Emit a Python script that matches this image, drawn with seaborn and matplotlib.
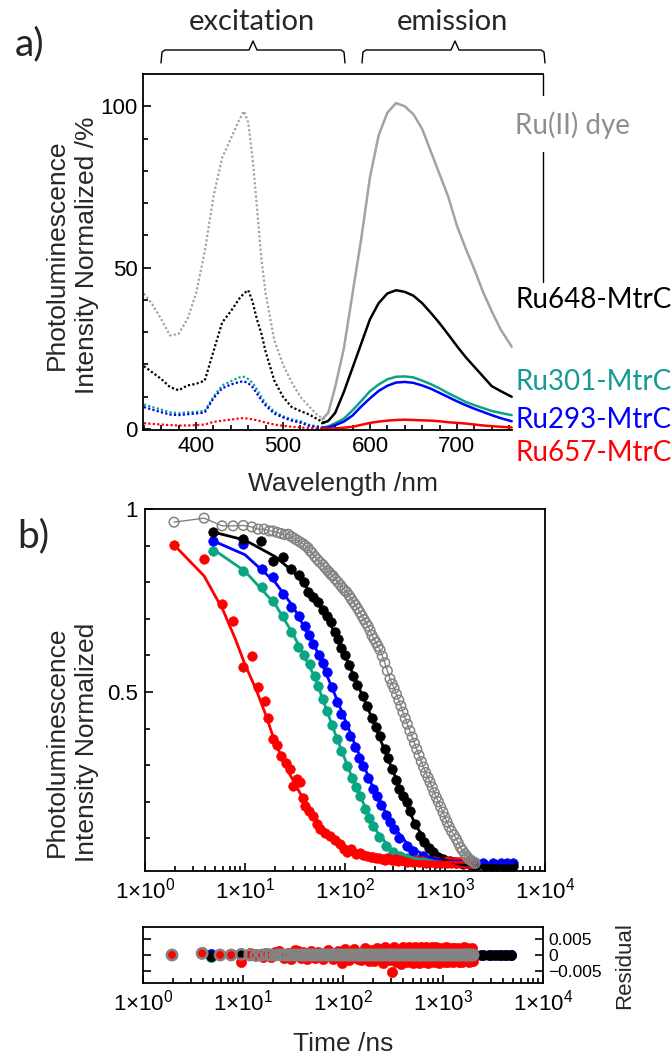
"""
Photoluminescence spectra (a) and decay traces with fit residuals (b)
for the Ru(II) dye and the Ru-labelled MtrC variants.
"""

import numpy as np
import pandas as pd
import matplotlib
matplotlib.use("Agg")
import matplotlib.pyplot as plt
from matplotlib.lines import Line2D
from matplotlib.ticker import FixedLocator, LogLocator, FuncFormatter, NullFormatter
import seaborn as sns

# ---------------- panel a: spectra ----------------
EX_NM = [340, 350, 360, 370, 380, 390, 400, 410, 420, 430, 440, 450, 455, 460,
         465, 470, 475, 480, 490, 500, 510, 520, 530, 540, 548]
EM_NM = [545, 552, 560, 570, 580, 590, 600, 610, 620, 630, 640, 650, 660, 670,
         680, 690, 700, 710, 720, 730, 740, 750, 763]

dye_ex = [42, 38.5, 34, 29, 29.5, 34, 42, 55, 72, 84, 90, 96, 98.5, 95,
          84, 69, 53, 42, 27.5, 20, 14.5, 10, 7, 4.2, 3]
dye_em = [3, 5, 13, 25, 42, 59, 78, 91, 98, 101, 100, 97.5, 93, 86,
          79, 72, 63, 56, 49.5, 42.5, 36.5, 31, 25.5]
ru648_ex = [19.5, 17.5, 15.5, 13, 12, 13.5, 14, 15, 24, 33, 36.5, 40.5, 42, 43,
            39.5, 34, 29.7, 24, 15, 10, 6.8, 5.6, 4.5, 3, 1.8]
ru648_em = [1.8, 2.5, 5, 11.5, 19, 26.5, 34, 39, 42, 43, 42.5, 41.3, 39, 36,
            32.8, 29.3, 25.7, 22.3, 19.3, 16.3, 13.3, 11.8, 10]
ru301_ex = [7.6, 6.8, 6, 5.2, 4.9, 5.2, 5.3, 5.6, 10, 13.5, 14.8, 16, 16.2, 15.5,
            14.3, 12.3, 10, 8, 5.4, 4, 3, 2.4, 1.3, 0.8, 0.5]
ru301_em = [0.5, 0.8, 1.8, 3.2, 5.8, 8.7, 11.7, 13.8, 15.4, 16.2, 16.3, 16, 15,
            13.9, 12.6, 11.1, 9.8, 8.4, 7.4, 6.5, 5.6, 5, 4.3]
ru293_ex = [6.8, 6, 5.2, 4.5, 4.3, 4.6, 4.8, 5.1, 9.5, 12.6, 13.8, 14.6, 14.8, 14.2,
            13, 11, 9, 7.3, 4.8, 3.6, 2.6, 2, 1, 0.5, 0.3]
ru293_em = [0.3, 0.5, 1.2, 2.3, 4.2, 7, 9.5, 11.8, 13.4, 14.4, 14.6, 14.3, 13.5,
            12.5, 11.2, 9.9, 8.6, 7.4, 6.3, 5.3, 4.3, 3.4, 2.4]
ru657_ex = [1.8, 1.6, 1.4, 1.2, 1.1, 1.1, 1.2, 1.4, 2.2, 2.6, 2.9, 3.3, 3.4, 3.2,
            3.0, 2.7, 2.4, 2.0, 1.4, 1.0, 0.7, 0.5, 0.3, 0.2, 0.1]
ru657_em = [0.1, 0.1, 0.2, 0.4, 0.7, 1.3, 1.9, 2.3, 2.6, 2.8, 2.9, 2.8, 2.7, 2.6,
            2.4, 2.1, 1.9, 1.7, 1.4, 1.1, 0.9, 0.7, 0.5]

# ---------------- panel b: decays (time /ns, normalised PL, residual) ----------------
dye_t = [1.95, 3.9, 5.9, 7.6, 9.6, 11.7, 13.5, 15.5, 17.5, 19,
         21, 23, 25, 27, 29, 31, 33, 35.5, 38, 40,
         42.5, 44.7, 47, 50, 53, 56, 60, 63, 67, 70,
         73, 76, 80, 85, 90, 94, 99, 104, 110, 115,
         121, 127, 134, 141, 148, 155, 162, 170, 178, 186,
         195, 205, 214, 224, 236, 250, 265, 282, 296, 310,
         327, 345, 362, 380, 400, 420, 445, 470, 495, 522,
         550, 580, 610, 640, 675, 708, 745, 780, 820, 860,
         905, 955, 1000, 1050, 1100, 1160, 1230, 1300, 1360, 1430,
         1500, 1580, 1650, 1720, 1790, 1860, 1930, 2000]
dye_v = [.964, .975, .954, .954, .955, .951, .945, .945, .94, .94,
         .936, .933, .93, .931, .925, .92, .915, .91, .905, .9,
         .894, .886, .88, .87, .862, .855, .848, .84, .832, .826,
         .82, .817, .808, .8, .792, .785, .778, .773, .764, .755,
         .746, .738, .728, .718, .708, .698, .689, .68, .668, .655,
         .645, .635, .625, .615, .598, .58, .558, .536, .522, .51,
         .494, .478, .462, .445, .428, .412, .394, .377, .36, .344,
         .327, .31, .295, .28, .267, .254, .24, .225, .212, .2,
         .186, .172, .158, .145, .132, .12, .109, .098, .087, .075,
         .067, .058, .051, .045, .041, .038, .035, .032]
dye_r = [0, .0005, 0, 0, .0002, 0, -.0002, 0, .0002, 0,
         0, .0001, 0, 0, 0, 0, 0, 0, 0, 0,
         0, 0, 0, 0, 0, 0, 0, 0, 0, 0,
         0, 0, 0, 0, 0, 0, 0, 0, 0, 0,
         0, 0, 0, 0, 0, 0, 0, 0, 0, 0,
         0, 0, 0, 0, 0, 0, 0, 0, 0, 0,
         0, 0, 0, 0, 0, 0, 0, 0, 0, 0,
         0, 0, 0, 0, 0, 0, 0, 0, 0, 0,
         0, 0, 0, 0, 0, 0, 0, 0, 0, 0,
         0, 0, 0, 0, 0, 0, 0, 0]

ru648_t = [4.8, 9.6, 14.5, 19, 24, 29, 35, 39, 43, 48, 54, 60, 66, 72, 79, 85, 92, 100,
           110, 120, 132, 150, 165, 185, 205, 224, 250, 270, 292, 320, 350, 380, 415, 450,
           500, 562, 620, 690, 760, 850, 950, 1120, 1300, 1500, 1800, 2100, 2500, 2900,
           3300, 3800, 4300, 4800]
ru648_v = [.937, .918, .913, .858, .869, .836, .82, .8, .773, .76, .746, .725, .708, .69, .664,
           .645, .62, .6, .575, .544, .52, .49, .462, .43, .405, .38, .345, .32, .29, .26,
           .235, .215, .2, .175, .14, .107, .09, .075, .063, .05, .043, .038, .033, .03,
           .028, .027, .026, .025, .025, .024, .024, .024]
ru648_r = [-.0004, .0003, 0, 0, 0, 0, 0, 0, 0, 0, 0, 0, 0, 0, 0, 0, 0, 0,
           0, 0, 0, 0, 0, 0, 0, 0, 0, 0, 0, 0, 0, 0, 0, 0,
           0, 0, 0, 0, 0, 0, 0, 0, 0, 0, 0, 0, 0, 0, 0, 0, 0, 0]
ru648_fit_t = [4.8, 10, 20, 30, 50, 80, 120, 170, 250, 350, 500, 700, 1000, 1500, 2000, 4800]
ru648_fit_v = [.937, .915, .87, .83, .76, .66, .55, .455, .34, .24, .14, .075, .04, .028, .026, .024]

ru293_t = [4.8, 9.6, 14.7, 19, 24, 29, 35, 40, 44, 48, 55, 60, 66, 74, 83, 92, 100, 112,
           125, 138, 151, 170, 190, 208, 230, 255, 282, 310, 350, 415, 480, 600, 750, 955,
           1200, 1500, 1900, 2400, 3000, 3600, 4200, 4800]
ru293_v = [.913, .904, .836, .814, .768, .732, .708, .68, .655, .631, .6, .58, .555, .515,
           .473, .44, .41, .38, .35, .32, .298, .265, .235, .216, .19, .165, .145, .125, .1,
           .079, .065, .052, .045, .038, .035, .033, .032, .032, .032, .032, .032, .032]
ru293_r = [.0002, .0003, 0, 0, 0, 0, 0, 0, 0, 0, 0, 0, 0, 0, 0, 0, 0, 0,
           0, 0, 0, 0, 0, 0, 0, 0, 0, 0, 0, 0, 0, 0, 0, 0,
           0, 0, 0, 0, 0, 0, 0, 0]
ru293_fit_t = [4.8, 10, 20, 30, 50, 80, 120, 200, 300, 450, 700, 1000, 2000, 4800]
ru293_fit_v = [.913, .875, .8, .735, .625, .49, .37, .225, .135, .075, .048, .04, .034, .032]

ru301_t = [4.8, 9.6, 14.7, 19, 24, 29, 34, 39, 44.7, 50, 54, 60, 66, 74, 83, 92, 104, 118,
           130, 141, 160, 175, 191, 220, 257, 300, 355, 420, 520, 650, 800, 1000, 1300,
           1700, 2000]
ru301_v = [.885, .831, .787, .749, .708, .664, .623, .6, .577, .545, .516, .48, .448, .41,
           .372, .34, .298, .265, .24, .216, .18, .155, .134, .105, .079, .062, .052, .047,
           .044, .042, .04, .038, .036, .035, .035]
ru301_r = [-.0006, 0, 0, 0, 0, 0, 0, 0, 0, 0, 0, 0, 0, 0, 0, 0, 0, 0,
           0, 0, 0, 0, 0, 0, 0, 0, 0, 0, 0, 0, 0, 0, 0, 0, 0]
ru301_fit_t = [4.8, 10, 20, 30, 50, 80, 120, 200, 300, 500, 1000, 2000]
ru301_fit_v = [.89, .83, .74, .66, .54, .385, .26, .125, .065, .045, .038, .035]

ru657_t = [1.95, 3.9, 5.9, 7.6, 9.6, 11.7, 13.5, 15.8, 17, 19,
           21, 23, 26, 28, 30, 33, 35.5, 38, 40, 44,
           48, 52, 56, 63, 71, 80, 89, 97, 104, 115,
           130, 140, 150, 165, 180, 190, 205, 220, 235, 250,
           265, 280, 295, 310, 325, 340, 360, 380, 400, 420,
           440, 460, 480, 500, 525, 550, 575, 600, 625, 650,
           675, 700, 735, 770, 810, 850, 885, 920, 960, 1000,
           1040, 1080, 1120, 1160, 1200, 1250, 1300, 1350, 1400, 1450,
           1500, 1560, 1620, 1680, 1740, 1800, 1860, 1920, 1960, 2000]
ru657_v = [.902, .863, .74, .694, .568, .598, .514, .475, .43, .372,
           .355, .325, .305, .29, .243, .262, .254, .21, .189, .175,
           .161, .14, .126, .115, .107, .095, .085, .07, .063, .07,
           .058, .06, .055, .052, .05, .05, .047, .046, .044, .042,
           .046, .045, .041, .04, .043, .038, .04, .041, .037, .036,
           .04, .039, .035, .04, .037, .036, .039, .037, .035, .034,
           .037, .035, .036, .038, .034, .036, .037, .033, .036, .035,
           .034, .037, .035, .034, .036, .036, .033, .035, .034, .035,
           .035, .034, .033, .036, .034, .033, .035, .033, .035, .034]
ru657_r = [0, .001, 0, .0004, -.0022, .0008, .0003, -.0005, .0006, -.0008,
           .001, .0012, -.001, .0008, -.0012, .0015, .0014, -.001, .0011, -.0013,
           .0012, -.0011, .0009, -.0014, .0016, -.0012, .0014, -.0025, .0018, -.0017,
           .0019, -.0012, -.0015, .0021, -.0018, .0015, -.002, .0024, -.0014, -.0026,
           .0025, .0012, -.0017, -.0055, .0026, -.0022, -.0013, -.0028, .0027, .0016,
           -.0024, .0026, -.0016, -.0027, .0025, .0018, -.0026, .0027, -.0015, -.0024,
           .0026, -.0027, .0016, .0025, -.0023, .0026, -.0018, -.0025, .0024, .0015,
           -.0022, .0025, -.0024, .0017, .0023, -.0021, .0022, -.0016, .0024, -.0023,
           .0018, -.0022, .0025, -.0014, .0021, -.0024, .0019, -.002, .0022, -.0018]
ru657_fit_t = [1.95, 3.9, 6, 8, 10, 13, 16, 19, 25, 35, 45, 56, 80, 100, 150, 250, 500, 1000, 2000]
ru657_fit_v = [.902, .817, .725, .645, .575, .505, .44, .38, .3, .227, .175, .14, .09, .068,
               .052, .042, .037, .035, .034]

GRAY_A = "#a3a3a3"
GRAY_B = "#838383"
GREEN = "#0aa584"
BLUE = "#0000ff"
RED = "#ff0000"
BLACK = "#000000"

sns.set_style("ticks")
plt.rcParams["font.family"] = ["Liberation Sans", "DejaVu Sans"]
plt.rcParams["mathtext.fontset"] = "custom"
plt.rcParams["mathtext.rm"] = "Liberation Sans"
plt.rcParams["mathtext.default"] = "regular"
plt.rcParams["axes.edgecolor"] = "black"
plt.rcParams["axes.linewidth"] = 1.3
plt.rcParams["xtick.color"] = "black"
plt.rcParams["ytick.color"] = "black"

W, H = 672, 1057
fig = plt.figure(figsize=(W / 100, H / 100), dpi=100)
CAL = ["Lato", "DejaVu Sans"]


def box(l, t, r, b):
    return [l / W, 1 - b / H, (r - l) / W, (b - t) / H]


def ftext(x, y, s, **kw):
    fig.text(x / W, 1 - y / H, s, **kw)


def fline(xs, ys, **kw):
    fig.add_artist(Line2D([x / W for x in xs], [1 - y / H for y in ys],
                          transform=fig.transFigure, color="black", lw=1.0, **kw))


# ---------------- panel a ----------------
ax_a = fig.add_axes(box(143, 74, 543, 430))
spectra = [
    (dye_ex, dye_em, GRAY_A),
    (ru648_ex, ru648_em, BLACK),
    (ru301_ex, ru301_em, GREEN),
    (ru293_ex, ru293_em, BLUE),
    (ru657_ex, ru657_em, RED),
]
for ex, em, col in spectra:
    sns.lineplot(x=EX_NM, y=ex, ax=ax_a, color=col, lw=1.6, linestyle=(0, (1, 1)),
                 estimator=None, sort=False)
    sns.lineplot(x=EM_NM, y=em, ax=ax_a, color=col, lw=1.8, estimator=None, sort=False)

ax_a.set_xlim(339, 799)
ax_a.set_ylim(-0.3, 110)
ax_a.spines["right"].set_visible(False)
ax_a.spines["bottom"].set_bounds(339, 763)
ax_a.xaxis.set_major_locator(FixedLocator([400, 500, 600, 700]))
ax_a.xaxis.set_minor_locator(FixedLocator(list(range(340, 761, 20))))
ax_a.yaxis.set_major_locator(FixedLocator([0, 50, 100]))
ax_a.yaxis.set_minor_locator(FixedLocator(list(range(0, 101, 10))))
ax_a.tick_params(which="both", direction="in", top=False, right=False, width=1.2,
                 labelsize=16, pad=4)
ax_a.tick_params(which="major", length=6)
ax_a.tick_params(which="minor", length=3.5)
ax_a.set_xlabel("")
ax_a.set_ylabel("")

# right frame pieces around the "Ru(II) dye" label
fline([543, 543], [74, 95])
fline([543, 543], [152, 282])

labels_a = [
    ("Ru(II) dye", 125, "#8f8f8f"),
    ("Ru648-MtrC", 300, BLACK),
    ("Ru301-MtrC", 382, "#179a96"),
    ("Ru293-MtrC", 420, BLUE),
    ("Ru657-MtrC", 453, RED),
]
for txt, y, col in labels_a:
    ftext(515, y, txt, color=col, fontsize=20, family=CAL, ha="left", va="center")

ftext(343, 484, "Wavelength /nm", fontsize=19, ha="center", va="center")
ftext(72, 255, "Photoluminescence\nIntensity Normalized /%", fontsize=19, rotation=90,
      ha="center", va="center", linespacing=1.3)

# excitation / emission brackets
fline([161, 162, 165, 249, 253, 257, 341, 344, 345], [63, 52, 50, 50, 41, 50, 50, 52, 63])
fline([362, 363, 366, 451, 455, 459, 541, 544, 545], [63, 52, 50, 50, 41, 50, 50, 52, 63])
ftext(252, 22, "excitation", fontsize=21, family=CAL, ha="center", va="center")
ftext(452, 22, "emission", fontsize=21, family=CAL, ha="center", va="center")
ftext(30, 44, "a)", fontsize=28, family=CAL, ha="center", va="center")
ftext(33, 536, "b)", fontsize=28, family=CAL, ha="center", va="center")

# ---------------- panel b ----------------
decays = [
    (ru301_t, ru301_v, ru301_r, ru301_fit_t, ru301_fit_v, GREEN),
    (ru293_t, ru293_v, ru293_r, ru293_fit_t, ru293_fit_v, BLUE),
    (ru648_t, ru648_v, ru648_r, ru648_fit_t, ru648_fit_v, BLACK),
    (ru657_t, ru657_v, ru657_r, ru657_fit_t, ru657_fit_v, RED),
]

ax_b = fig.add_axes(box(145, 509, 545, 871))
ax_r = fig.add_axes(box(143, 927, 543, 983))
for ax in (ax_b, ax_r):
    ax.set_xscale("log")

for t, v, r, ft, fv, col in decays:
    df = pd.DataFrame({"t": t, "v": v, "r": r})
    sns.scatterplot(data=df, x="t", y="v", ax=ax_b, color=col, s=48,
                    edgecolor=col, linewidth=0.4, zorder=3)
    sns.lineplot(x=ft, y=fv, ax=ax_b, color=col, lw=2.0, estimator=None, sort=False, zorder=4)
    sns.scatterplot(data=df, x="t", y="r", ax=ax_r, color=col, s=55,
                    edgecolor=col, linewidth=0.4, zorder=3)

dye_df = pd.DataFrame({"t": dye_t, "v": dye_v, "r": dye_r})
sns.lineplot(data=dye_df, x="t", y="v", ax=ax_b, color=GRAY_B, lw=1.0,
             estimator=None, sort=False, zorder=5)
sns.scatterplot(data=dye_df, x="t", y="v", ax=ax_b, color=GRAY_B, s=48, linewidth=1.1,
                zorder=6)
ax_b.collections[-1].set_facecolor("none")
ax_b.collections[-1].set_edgecolor(GRAY_B)
sns.scatterplot(data=dye_df, x="t", y="r", ax=ax_r, color=GRAY_B, s=55, linewidth=1.8,
                zorder=6)
ax_r.collections[-1].set_facecolor("none")
ax_r.collections[-1].set_edgecolor(GRAY_B)

sci = FuncFormatter(lambda x, p: f"1×10$^{{{int(round(np.log10(x)))}}}$")
for ax in (ax_b, ax_r):
    ax.set_xlim(1, 1e4)
    ax.xaxis.set_major_locator(LogLocator(base=10, numticks=10))
    ax.xaxis.set_minor_locator(LogLocator(base=10, subs=list(range(2, 10)), numticks=20))
    ax.xaxis.set_major_formatter(sci)
    ax.xaxis.set_minor_formatter(NullFormatter())
    ax.set_xlabel("")
    ax.set_ylabel("")
    ax.tick_params(which="both", direction="in", top=False, width=1.2)
    ax.tick_params(which="major", length=6, labelsize=16, pad=5)
    ax.tick_params(which="minor", length=3.5)

ax_b.set_ylim(0.011, 1.0)
ax_b.yaxis.set_major_locator(FixedLocator([0.5, 1.0]))
ax_b.yaxis.set_major_formatter(FuncFormatter(lambda v, p: "1" if v == 1 else "0.5"))
ax_b.yaxis.set_minor_locator(FixedLocator([.1, .2, .3, .4, .6, .7, .8, .9]))
ax_b.tick_params(axis="y", right=False)

ax_r.set_ylim(-0.009, 0.009)
ax_r.yaxis.set_major_locator(FixedLocator([-0.005, 0, 0.005]))
ax_r.yaxis.set_major_formatter(FuncFormatter(
    lambda v, p: "0" if abs(v) < 1e-9 else ("0.005" if v > 0 else "\u22120.005")))
ax_r.yaxis.set_minor_locator(FixedLocator([]))
ax_r.tick_params(axis="y", left=True, right=True, labelleft=False, labelright=True,
                 labelsize=12.5, pad=4)

ftext(72, 742, "Photoluminescence\nIntensity Normalized", fontsize=19, rotation=90,
      ha="center", va="center", linespacing=1.3)
ftext(625, 966, "Residual", fontsize=16, rotation=90, ha="center", va="center")
ftext(343, 1044, "Time /ns", fontsize=19, ha="center", va="center")

fig.savefig("out.png", dpi=100)
